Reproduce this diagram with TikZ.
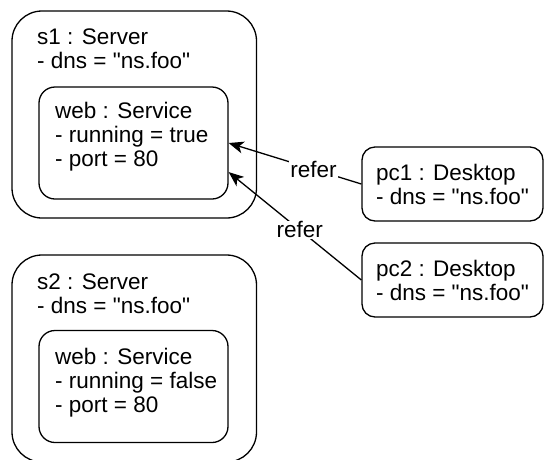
\documentclass[tikz,border=0pt]{standalone}
\usepackage{fontspec}
\setmainfont{Liberation Sans}
\usetikzlibrary{arrows.meta,positioning}
\newcommand{\dq}[1]{\textquotedbl#1\textquotedbl}

\begin{document}
\begin{tikzpicture}[x=1pt, y=-1pt,
    every node/.style={font=\fontsize{22.5}{24}\selectfont},
    obj/.style={draw, line width=1.3pt, inner sep=0pt},
    attrs/.style={align=left, inner sep=0pt, anchor=base west},
    refer/.style={-{Stealth[length=15pt, width=12pt, inset=4pt]}, line width=1.3pt}]
    \useasboundingbox (0,0) rectangle (544,459);
    % servers
    \node[obj, rounded corners=30pt, minimum width=244.5pt, minimum height=207pt] (s1) at (134.25,114.5) {};
    \node[attrs] (s1attrs) at (37,68.5) {s1 : Server\\- dns = \dq{ns.foo}};
    \node[obj, rounded corners=16pt, minimum width=189pt, minimum height=112pt] (web1) at (133.5,143) {};
    \node[attrs] (web1attrs) at (55,166) {web : Service\\- running = true\\- port = 80};
    \node[obj, rounded corners=30pt, minimum width=244.5pt, minimum height=207pt] (s2) at (134.25,358.5) {};
    \node[attrs] (s2attrs) at (37,313) {s2 : Server\\- dns = \dq{ns.foo}};
    \node[obj, rounded corners=16pt, minimum width=189pt, minimum height=112pt] (web2) at (133.5,386.5) {};
    \node[attrs] (web2attrs) at (55,412) {web : Service\\- running = false\\- port = 80};
    % desktops
    \node[obj, rounded corners=13pt, align=left, minimum width=181pt, minimum height=74pt] (pc1) at (452.5,184) {pc1 : Desktop\\- dns = \dq{ns.foo}};
    \node[obj, rounded corners=13pt, align=left, minimum width=181pt, minimum height=74pt] (pc2) at (452.5,280) {pc2 : Desktop\\- dns = \dq{ns.foo}};
    \path[refer]
      (pc1.west) edge node[pos=0.36, fill=white, inner sep=1pt] (refer1) {refer} (web1.east)
      (pc2.west) edge node[pos=0.465, fill=white, inner sep=1pt] (refer2) {refer} (web1.-17.6);
\end{tikzpicture}
\end{document}
